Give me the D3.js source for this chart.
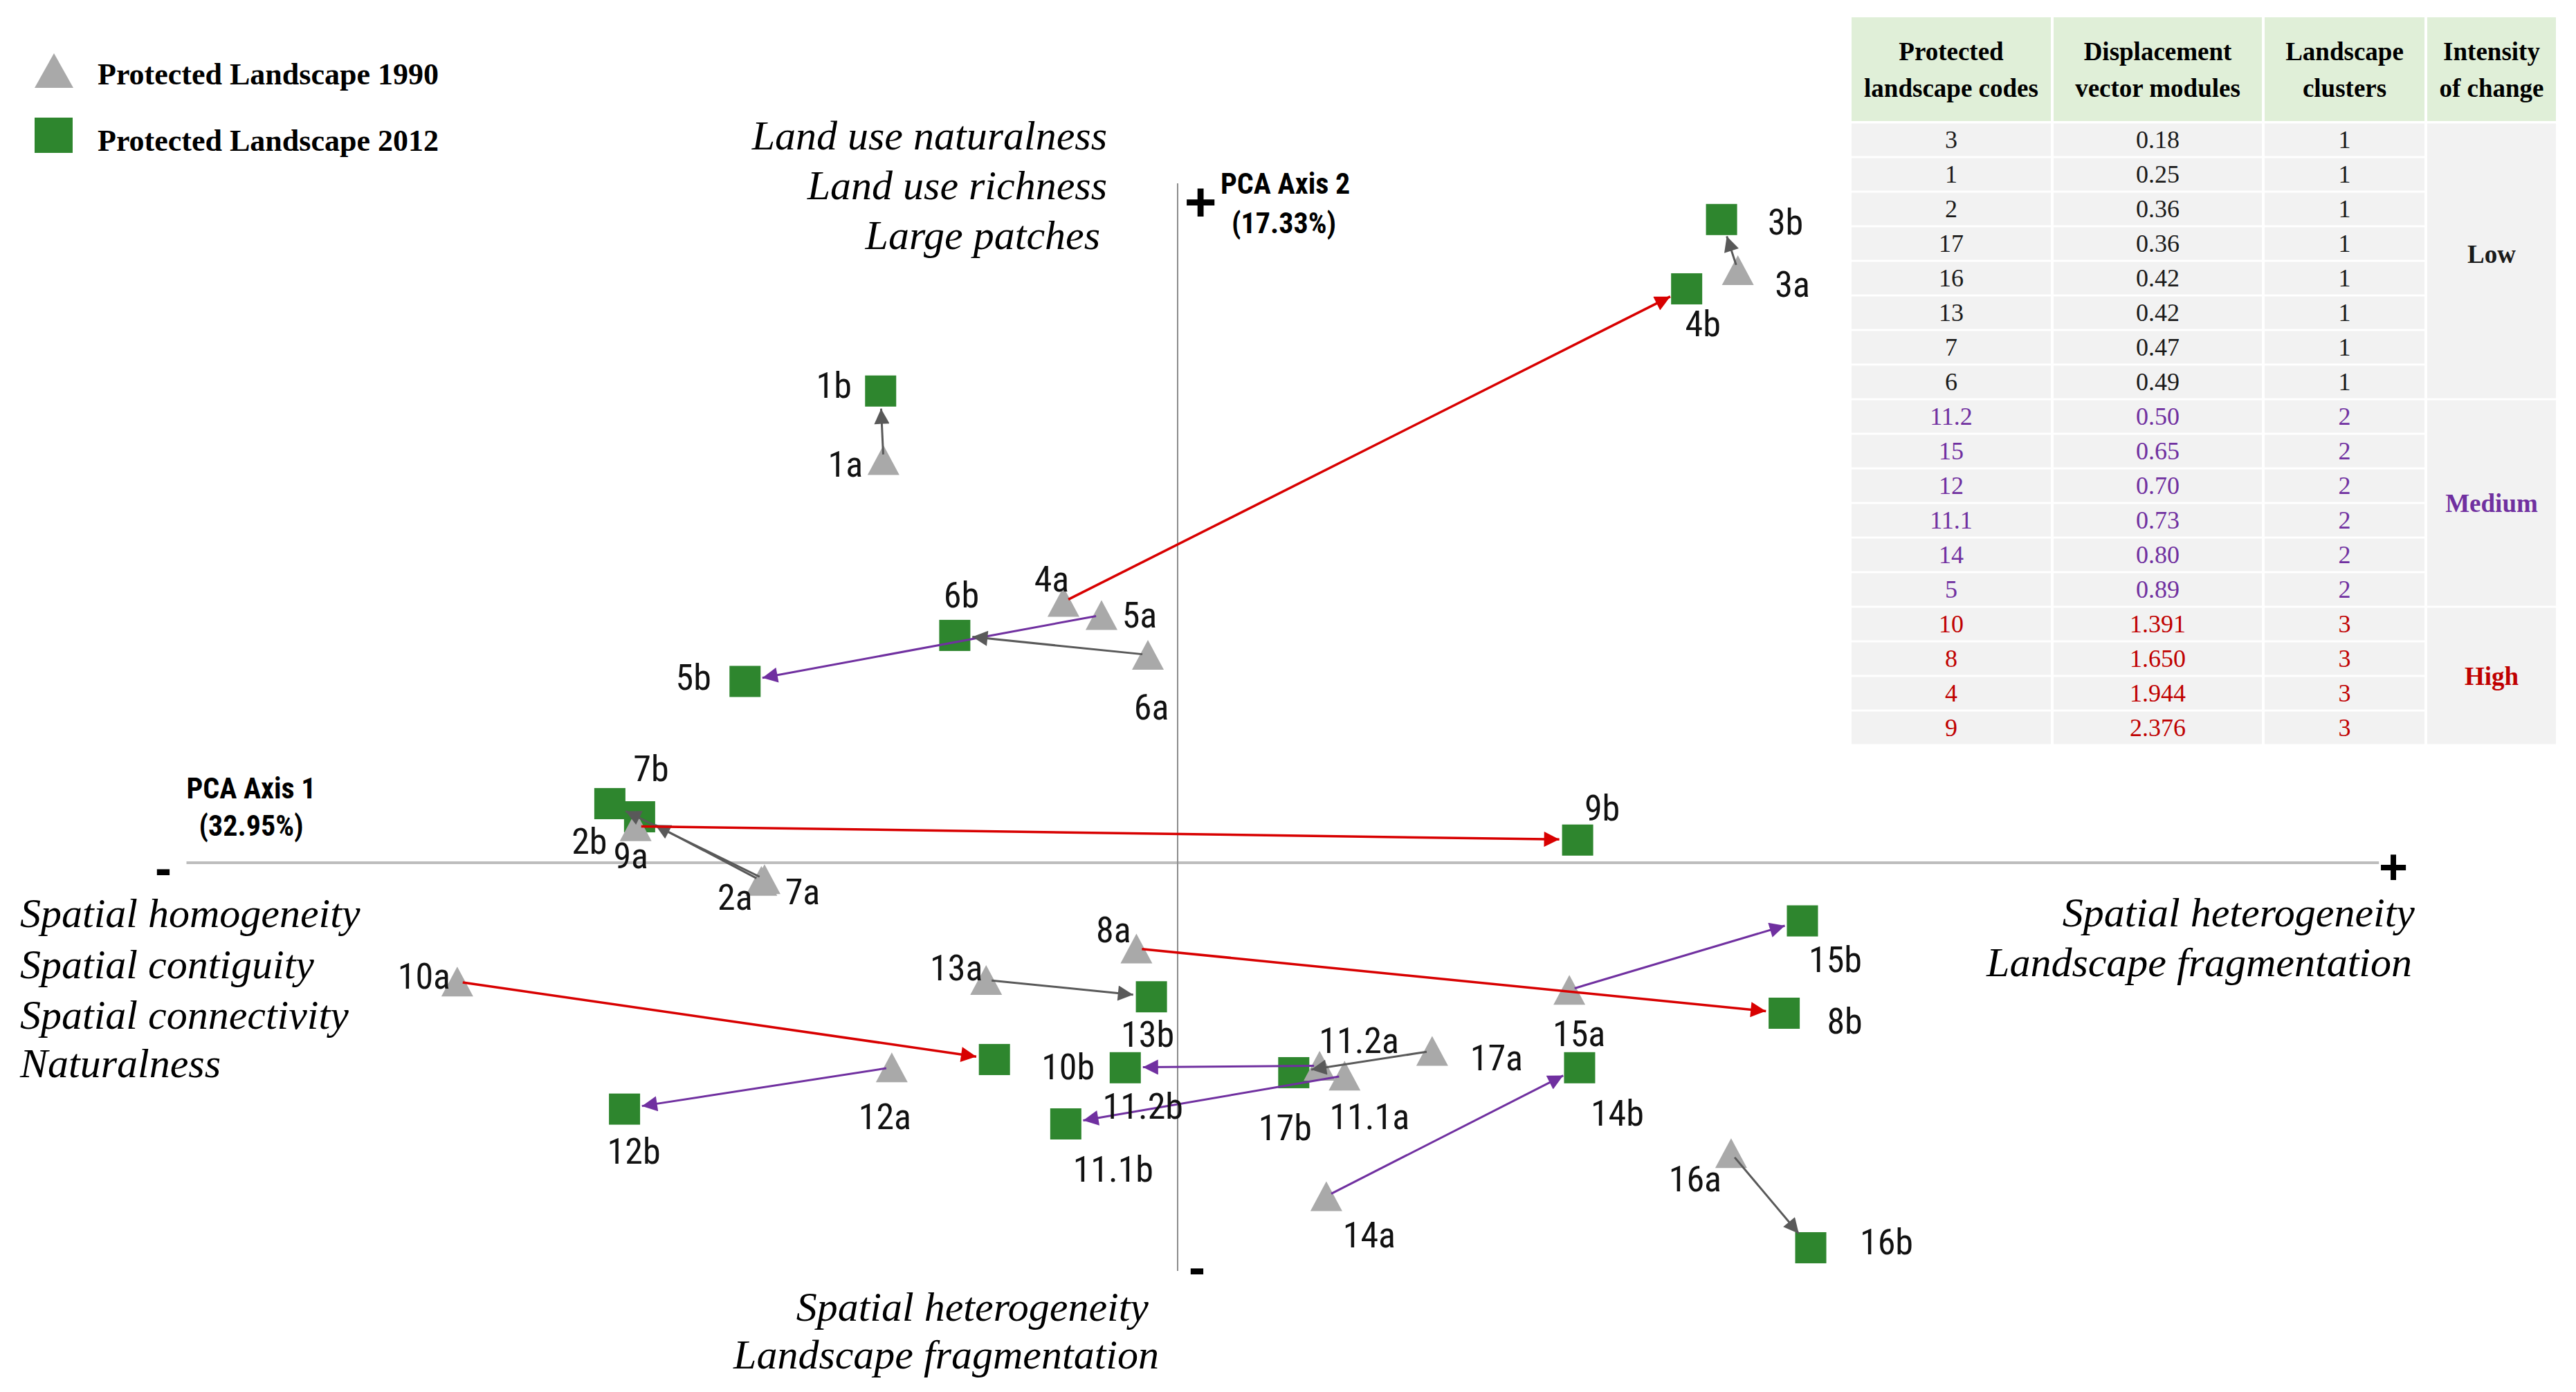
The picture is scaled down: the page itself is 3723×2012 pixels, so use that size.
<!DOCTYPE html>
<html>
<head>
<meta charset="utf-8">
<script src="https://cdn.jsdelivr.net/npm/d3@7"></script>
<style>
body { margin: 0; background: #fff; }
</style>
</head>
<body>
<div id="chart"></div>
<script>
// landscape codes plotted in the PCA plane (1990 = "a", 2012 = "b")
var codes = ["1", "2", "3", "4", "5", "6", "7", "8", "9", "10", "11.1", "11.2", "12", "13", "14", "15", "16", "17"];
var x1990 = [-0.742, -1.050, 1.413, -0.288, -0.192, -0.075, -1.042, -0.104, -1.367, -1.817, 0.421, 0.358, -0.721, -0.483, 0.375, 0.988, 1.396, 0.642];
var y1990 = [1.470, -0.066, 2.163, 0.952, 0.904, 0.759, -0.060, -0.313, 0.133, -0.434, -0.777, -0.741, -0.747, -0.428, -1.217, -0.464, -1.060, -0.687];
var x2012 = [-0.750, -1.358, 1.371, 1.283, -1.092, -0.563, -1.433, 1.529, 1.008, -0.463, -0.283, -0.133, -1.396, -0.067, 1.013, 1.575, 1.596, 0.292];
var y2012 = [1.723, 0.169, 2.349, 2.096, 0.663, 0.831, 0.217, -0.548, 0.084, -0.717, -0.952, -0.747, -0.898, -0.488, -0.747, -0.211, -1.404, -0.765];
var clusters = [1, 1, 1, 3, 2, 1, 1, 3, 3, 3, 2, 2, 2, 1, 2, 2, 1, 1];

// table on the right
var tableCodes = ["3", "1", "2", "17", "16", "13", "7", "6", "11.2", "15", "12", "11.1", "14", "5", "10", "8", "4", "9"];
var tableModules = ["0.18", "0.25", "0.36", "0.36", "0.42", "0.42", "0.47", "0.49", "0.50", "0.65", "0.70", "0.73", "0.80", "0.89", "1.391", "1.650", "1.944", "2.376"];
var tableClusters = [1, 1, 1, 1, 1, 1, 1, 1, 2, 2, 2, 2, 2, 2, 3, 3, 3, 3];
var intensityLabels = ["Low", "Medium", "High"];
var tableHeaders = [["Protected", "landscape codes"], ["Displacement", "vector modules"], ["Landscape", "clusters"], ["Intensity", "of change"]];

var xExtent = [-2.5, 3.03];
var yExtent = [-1.49, 2.48];

// label offsets (px) per point, a then b
var offA = [[-55, 7], [-38, 24], [79, 21], [-17, -33], [55, 0], [5, 76], [55, 19], [-33, -26], [-7, 43], [-48, -7], [36, 60], [57, -36], [-10, 72], [-43, -17], [62, 57], [14, 64], [-52, 38], [93, 10]];
var offB = [[-67, -7], [-72, 36], [93, 5], [24, 52], [-74, -5], [10, -57], [60, -50], [88, 12], [36, -45], [107, 12], [69, 67], [26, 57], [14, 62], [-5, 55], [55, 67], [48, 57], [110, -7], [-12, 81]];

var W = 3723, H = 2012;
var clusterColor = {1: "#595959", 2: "#7030a0", 3: "#d80000"};
var tableColor = {1: "#1a1a1a", 2: "#7030a0", 3: "#c00000"};
var triColor = "#a9a9a9", sqColor = "#2e862e";
var sansNarrow = "'Liberation Sans Narrow', 'Arial Narrow', 'Roboto Condensed', sans-serif";
var serif = "'Liberation Serif', 'Times New Roman', serif";

var svg = d3.select("#chart").append("svg")
    .attr("width", W)
    .attr("height", H)
    .style("background", "#fff");

var x = d3.scaleLinear().domain(xExtent).range([1702 + xExtent[0] * 573, 1702 + xExtent[1] * 573]);
var y = d3.scaleLinear().domain(yExtent).range([1247 - yExtent[0] * 396, 1247 - yExtent[1] * 396]);

// arrow heads
var defs = svg.append("defs");
[1, 2, 3].forEach(function(c) {
    defs.append("marker")
        .attr("id", "head" + c)
        .attr("markerUnits", "userSpaceOnUse")
        .attr("viewBox", "0 0 10 10")
        .attr("refX", 10)
        .attr("refY", 5)
        .attr("markerWidth", 26)
        .attr("markerHeight", 22)
        .attr("orient", "auto")
        .append("path")
        .attr("d", "M0,0 L10,5 L0,10 Z")
        .attr("fill", clusterColor[c]);
});

// axes
svg.append("line")
    .attr("x1", x(xExtent[0])).attr("x2", x(xExtent[1]))
    .attr("y1", y(0)).attr("y2", y(0))
    .attr("stroke", "#bdbdbd").attr("stroke-width", 4);
svg.append("line")
    .attr("x1", x(0)).attr("x2", x(0))
    .attr("y1", y(yExtent[1])).attr("y2", y(yExtent[0]))
    .attr("stroke", "#8c8c8c").attr("stroke-width", 2);

var signs = [["-", 236, 1254, 72], ["+", 3459, 1253, 72], ["+", 1735, 291, 80], ["-", 1730, 1831, 72]];
svg.selectAll(".sign").data(signs).enter().append("text")
    .attr("class", "sign")
    .attr("x", function(d) { return d[1]; })
    .attr("y", function(d) { return d[2]; })
    .attr("text-anchor", "middle")
    .attr("dominant-baseline", "central")
    .style("font-family", "'Liberation Sans', Arial, sans-serif")
    .style("font-weight", "bold")
    .style("font-size", function(d) { return d[3] + "px"; })
    .text(function(d) { return d[0]; });

// axis titles
var axisTitles = [["PCA Axis 1", 363, 1139, "middle"], ["(32.95%)", 363, 1193, "middle"],
                  ["PCA Axis 2", 1764, 265, "start"], ["(17.33%)", 1780, 322, "start"]];
svg.selectAll(".axtitle").data(axisTitles).enter().append("text")
    .attr("x", function(d) { return d[1]; })
    .attr("y", function(d) { return d[2]; })
    .attr("text-anchor", function(d) { return d[3]; })
    .attr("dominant-baseline", "central")
    .style("font-family", sansNarrow)
    .style("font-weight", "bold")
    .style("font-size", "42px")
    .text(function(d) { return d[0]; });

// italic descriptions of the axis ends
var descr = [
    ["Land use naturalness", 1600, 196, "end"], ["Land use richness", 1600, 268, "end"], ["Large patches", 1590, 340, "end"],
    ["Spatial homogeneity", 29, 1320, "start"], ["Spatial contiguity", 29, 1394, "start"],
    ["Spatial connectivity", 29, 1467, "start"], ["Naturalness", 29, 1537, "start"],
    ["Spatial heterogeneity", 3490, 1319, "end"], ["Landscape fragmentation", 3486, 1391, "end"],
    ["Spatial heterogeneity", 1660, 1889, "end"], ["Landscape fragmentation", 1675, 1958, "end"]
];
svg.selectAll(".descr").data(descr).enter().append("text")
    .attr("x", function(d) { return d[1]; })
    .attr("y", function(d) { return d[2]; })
    .attr("text-anchor", function(d) { return d[3]; })
    .attr("dominant-baseline", "central")
    .style("font-family", serif)
    .style("font-style", "italic")
    .style("font-size", "60px")
    .text(function(d) { return d[0]; });

var pts = codes.map(function(c, i) {
    return {code: c, xa: x1990[i], ya: y1990[i], xb: x2012[i], yb: y2012[i], cl: clusters[i], oa: offA[i], ob: offB[i]};
});

// 2012 squares
svg.selectAll(".sq").data(pts).enter().append("rect")
    .attr("x", function(d) { return x(d.xb) - 22; })
    .attr("y", function(d) { return y(d.yb) - 22; })
    .attr("width", 45).attr("height", 45)
    .attr("fill", sqColor);

// 1990 triangles
function triPath(w, h) {
    return "M0," + (-h / 2) + " L" + (w / 2) + "," + (h / 2) + " L" + (-w / 2) + "," + (h / 2) + " Z";
}
svg.selectAll(".tri").data(pts).enter().append("path")
    .attr("d", triPath(46, 43))
    .attr("transform", function(d) { return "translate(" + x(d.xa) + "," + y(d.ya) + ")"; })
    .attr("fill", triColor);

// displacement vectors
svg.selectAll(".vec").data(pts).enter().append("line")
    .each(function(d) {
        var x1 = x(d.xa), y1 = y(d.ya), x2 = x(d.xb), y2 = y(d.yb);
        var len = Math.sqrt((x2 - x1) * (x2 - x1) + (y2 - y1) * (y2 - y1));
        var ux = (x2 - x1) / len, uy = (y2 - y1) / len;
        d3.select(this)
            .attr("x1", x1 + ux * 8).attr("y1", y1 + uy * 8)
            .attr("x2", x2 - ux * 26).attr("y2", y2 - uy * 26);
    })
    .attr("stroke", function(d) { return clusterColor[d.cl]; })
    .attr("stroke-width", function(d) { return d.cl === 3 ? 3.5 : 3; })
    .attr("marker-end", function(d) { return "url(#head" + d.cl + ")"; });

// point labels
var labels = [];
pts.forEach(function(d) {
    labels.push({t: d.code + "a", x: x(d.xa) + d.oa[0], y: y(d.ya) + d.oa[1]});
    labels.push({t: d.code + "b", x: x(d.xb) + d.ob[0], y: y(d.yb) + d.ob[1]});
});
svg.selectAll(".lbl").data(labels).enter().append("text")
    .attr("x", function(d) { return d.x; })
    .attr("y", function(d) { return d.y; })
    .attr("text-anchor", "middle")
    .attr("dominant-baseline", "central")
    .style("font-family", sansNarrow)
    .style("font-size", "52px")
    .attr("fill", "#111")
    .text(function(d) { return d.t; });

// legend
var legend = svg.append("g");
legend.append("path").attr("d", triPath(56, 50)).attr("transform", "translate(78,102)").attr("fill", triColor);
legend.append("rect").attr("x", 50).attr("y", 170).attr("width", 55).attr("height", 51).attr("fill", sqColor);
legend.selectAll("text").data(["Protected Landscape 1990", "Protected Landscape 2012"]).enter().append("text")
    .attr("x", 141)
    .attr("y", function(d, i) { return 107 + i * 96; })
    .attr("dominant-baseline", "central")
    .style("font-family", serif)
    .style("font-weight", "bold")
    .style("font-size", "44px")
    .text(function(d) { return d; });

// table
var colX = [2674, 2966, 3271, 3506, 3696];
var headTop = 25, headBot = 175, rowTop = 177, rowH = 50;
var table = svg.append("g");
tableHeaders.forEach(function(h, j) {
    table.append("rect")
        .attr("x", colX[j] + 2).attr("y", headTop)
        .attr("width", colX[j + 1] - colX[j] - 4).attr("height", headBot - headTop)
        .attr("fill", "#e0efd8");
    h.forEach(function(line, k) {
        table.append("text")
            .attr("x", (colX[j] + colX[j + 1]) / 2)
            .attr("y", 74 + k * 53)
            .attr("text-anchor", "middle")
            .attr("dominant-baseline", "central")
            .style("font-family", serif)
            .style("font-weight", "bold")
            .style("font-size", "37px")
            .text(line);
    });
});
var rows = table.selectAll(".row").data(tableCodes).enter().append("g")
    .attr("transform", function(d, i) { return "translate(0," + (rowTop + i * rowH) + ")"; });
[0, 1, 2].forEach(function(j) {
    rows.append("rect")
        .attr("x", colX[j] + 2).attr("y", 1.5)
        .attr("width", colX[j + 1] - colX[j] - 4).attr("height", rowH - 3)
        .attr("fill", "#f2f2f2");
    rows.append("text")
        .attr("x", (colX[j] + colX[j + 1]) / 2)
        .attr("y", rowH / 2)
        .attr("text-anchor", "middle")
        .attr("dominant-baseline", "central")
        .style("font-family", serif)
        .style("font-size", "36px")
        .attr("fill", function(d, i) { return tableColor[tableClusters[i]]; })
        .text(function(d, i) { return j === 0 ? d : (j === 1 ? tableModules[i] : tableClusters[i]); });
});
// merged intensity cells
intensityLabels.forEach(function(lab, k) {
    var idx = d3.range(tableClusters.length).filter(function(i) { return tableClusters[i] === k + 1; });
    var top = rowTop + d3.min(idx) * rowH, bot = rowTop + (d3.max(idx) + 1) * rowH;
    table.append("rect")
        .attr("x", colX[3] + 2).attr("y", top + 1.5)
        .attr("width", colX[4] - colX[3] - 4).attr("height", bot - top - 3)
        .attr("fill", "#f2f2f2");
    table.append("text")
        .attr("x", (colX[3] + colX[4]) / 2)
        .attr("y", (top + bot) / 2 - (k === 0 ? 10 : 0))
        .attr("text-anchor", "middle")
        .attr("dominant-baseline", "central")
        .style("font-family", serif)
        .style("font-weight", "bold")
        .style("font-size", "37px")
        .attr("fill", tableColor[k + 1])
        .text(lab);
});
</script>
</body>
</html>
